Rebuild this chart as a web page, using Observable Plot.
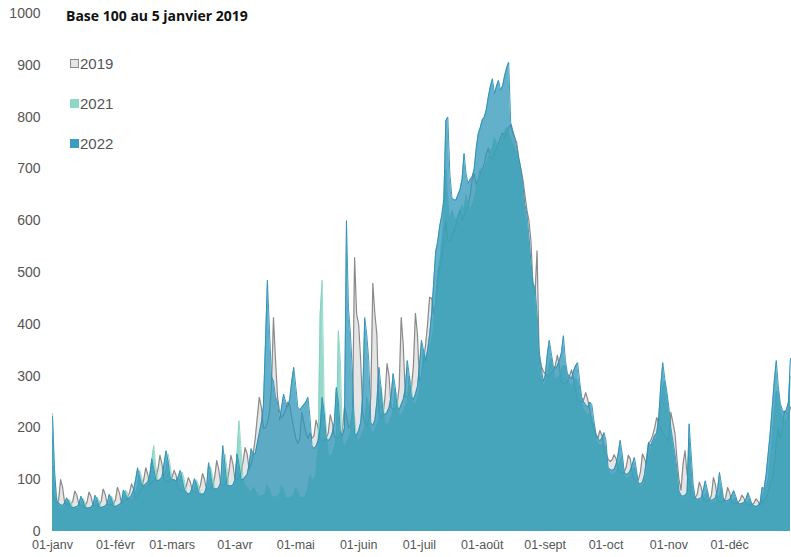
<!DOCTYPE html>
<html>
<head>
<meta charset="utf-8">
<script src="https://cdn.jsdelivr.net/npm/d3@7"></script>
<script src="https://cdn.jsdelivr.net/npm/@observablehq/plot@0.6"></script>
<style>
  html, body { margin: 0; padding: 0; background: #fff; }
  #chart { width: 791px; height: 557px; }
</style>
</head>
<body>
<div id="chart"></div>
<script>
// Daily values (index 0 = 1 January), base 100 = 5 January 2019
const values2019 = [
  80,60,55,60,100,85,55,
  52,50,52,58,78,70,52,
  50,49,50,56,76,68,50,
  50,50,52,58,82,72,52,
  52,52,54,60,85,75,55,
  58,60,65,75,92,82,65,
  70,75,85,100,123,110,90,
  95,98,105,120,147,130,100,
  98,96,98,105,118,108,85,
  80,78,80,88,104,95,78,
  76,76,78,90,112,100,80,
  82,84,88,105,137,120,90,
  88,90,95,115,147,130,100,
  100,105,115,135,162,150,120,
  130,150,180,220,259,240,200,
  200,210,230,280,413,330,260,
  230,220,225,235,250,245,220,
  200,180,170,180,230,210,190,
  180,190,180,185,215,200,180,
  175,175,180,190,225,210,185,
  180,180,185,195,240,225,200,
  205,230,529,420,400,330,230,
  210,205,215,260,479,420,380,
  230,220,225,260,324,300,240,
  235,235,245,280,413,360,260,
  260,265,275,320,421,380,290,
  300,330,360,400,452,450,420,
  440,480,510,530,560,600,560,
  560,570,580,590,610,620,600,
  610,620,630,650,680,690,670,
  680,690,700,710,730,740,720,
  720,730,740,750,760,770,760,
  770,780,785,770,760,750,720,
  700,680,650,620,600,560,470,
  460,542,340,320,310,305,300,
  300,305,310,320,340,320,290,
  285,285,290,300,312,295,270,
  255,250,250,255,268,255,235,
  210,200,185,180,195,185,165,
  150,140,135,138,148,140,120,
  115,112,115,125,147,140,110,
  100,98,100,115,150,140,130,
  170,175,185,200,220,210,200,
  190,185,180,175,230,210,190,
  140,100,80,130,156,110,100,
  70,65,65,72,95,85,62,
  60,58,60,70,104,90,60,
  58,56,58,65,85,75,56,
  55,54,55,60,70,65,52,
  52,50,52,55,63,58,50,
  55,60,65,75,95,100,130,
  170,200,180,200,232,230,225,
  240
];
const values2021 = [
  228,110,70,50,48,46,48,
  55,62,58,46,44,44,46,
  52,64,58,45,44,44,46,
  52,66,60,46,45,45,47,
  54,68,62,47,46,47,50,
  60,80,75,60,62,66,75,
  90,118,105,88,86,90,95,
  140,166,125,98,96,98,105,
  120,150,130,100,98,98,100,
  100,115,100,78,74,72,74,
  80,100,90,74,71,71,74,
  90,125,108,84,80,80,84,
  95,150,125,88,86,86,88,
  150,214,160,100,90,85,80,
  75,85,80,70,68,68,70,
  72,90,82,68,66,66,68,
  70,88,80,66,65,65,68,
  70,85,78,65,65,66,70,
  85,110,100,100,110,160,420,
  485,250,200,150,145,150,160,
  180,388,330,175,165,170,180,
  190,240,220,180,175,180,190,
  200,260,240,195,190,195,205,
  215,280,250,210,205,210,220,
  230,275,260,225,225,230,240,
  250,300,280,245,245,255,275,
  300,350,340,335,350,370,390,
  450,500,520,560,600,700,640,
  600,620,610,600,610,620,630,
  620,650,630,620,630,640,660,
  680,700,690,700,710,720,735,
  740,760,750,745,750,760,770,
  780,770,760,750,740,730,710,
  690,660,620,590,560,520,480,
  450,400,330,300,280,285,300,
  320,335,310,295,295,300,310,
  320,320,295,285,280,285,295,
  290,280,250,235,230,225,225,
  220,205,180,170,165,165,170,
  160,120,112,110,110,115,125,
  135,145,110,102,104,108,115,
  125,115,88,85,88,95,110,
  140,160,165,175,180,200,240,
  280,290,260,230,190,165,140,
  110,76,66,64,65,70,180,
  120,85,62,58,58,60,65,
  70,78,58,55,56,58,62,
  70,85,60,55,55,57,60,
  62,66,52,50,50,52,55,
  58,62,50,47,45,46,50,
  65,78,85,100,140,180,230,
  270,270,235,220,215,215,225,
  300
];
const values2022 = [
  222,120,60,55,52,50,55,
  65,58,48,46,47,48,52,
  68,60,47,45,46,47,52,
  70,62,48,46,48,49,54,
  72,64,50,48,50,52,56,
  80,72,62,65,70,80,100,
  123,105,90,88,92,95,110,
  140,120,100,98,100,105,130,
  156,135,105,100,100,98,105,
  118,100,80,75,72,75,85,
  102,92,75,72,72,75,85,
  133,110,85,82,82,85,95,
  166,130,90,88,88,90,100,
  150,130,100,100,105,110,130,
  160,150,150,170,190,210,240,
  360,485,390,300,290,260,250,
  215,240,265,250,240,255,290,
  317,280,240,235,240,245,250,
  259,220,165,160,165,175,200,
  259,230,180,175,180,190,210,
  278,250,190,185,200,600,430,
  380,300,190,185,195,210,260,
  413,380,330,210,205,215,250,
  317,280,230,225,230,240,260,
  305,280,240,235,245,255,275,
  330,300,260,255,265,280,320,
  369,350,330,350,380,420,480,
  540,560,590,610,640,793,800,
  690,645,640,640,650,660,680,
  730,690,672,680,685,700,740,
  768,780,795,800,815,840,860,
  874,845,860,871,852,860,880,
  895,906,790,775,760,740,720,
  700,670,630,614,570,520,480,
  470,420,350,320,290,300,340,
  369,345,320,315,320,330,345,
  378,330,305,300,295,310,320,
  326,290,260,250,245,240,250,
  245,215,190,180,175,180,191,
  175,124,120,118,120,130,150,
  176,150,115,110,112,118,130,
  143,120,93,92,95,110,140,
  172,165,175,185,190,220,280,
  326,295,270,240,200,175,150,
  120,79,70,68,70,75,208,
  150,90,65,62,63,65,80,
  98,80,62,60,62,65,80,
  114,90,62,60,60,62,70,
  79,68,55,53,54,56,62,
  75,65,52,50,48,50,55,
  85,83,110,150,190,240,290,
  330,280,247,235,230,235,250,
  334
];
const years = ["2019", "2021", "2022"];
const monthLabels = ["01-janv","01-févr","01-mars","01-avr","01-mai","01-juin","01-juil","01-août","01-sept","01-oct","01-nov","01-déc"];
const yTicks = [0,100,200,300,400,500,600,700,800,900,1000];

const toRows = (vals) => vals.map((v, i) => ({date: new Date(Date.UTC(2022, 0, 1 + i)), value: v}));
const d2019 = toRows(values2019);
const d2021 = toRows(values2021);
const d2022 = toRows(values2022);
const monthStarts = monthLabels.map((_, m) => new Date(Date.UTC(2022, m, 1)));

const plot = Plot.plot({
  width: 791,
  height: 557,
  marginLeft: 52,
  marginRight: 1,
  marginTop: 13,
  marginBottom: 26,
  style: {fontFamily: "'Liberation Sans', Arial, sans-serif", background: "#fff", color: "#555"},
  x: {type: "utc", domain: [new Date(Date.UTC(2022,0,1)), new Date(Date.UTC(2022,11,31))]},
  y: {domain: [0, 1000]},
  marks: [
    Plot.areaY(d2019, {x: "date", y: "value", fill: "#e5e5e5"}),
    Plot.lineY(d2019, {x: "date", y: "value", stroke: "#8a8a8a", strokeWidth: 1.2}),
    Plot.areaY(d2021, {x: "date", y: "value", fill: "#6cc9b5", fillOpacity: 0.7}),
    Plot.lineY(d2021, {x: "date", y: "value", stroke: "#7ed2bf", strokeWidth: 1, strokeOpacity: 0.8}),
    Plot.areaY(d2022, {x: "date", y: "value", fill: "#2e95b8", fillOpacity: 0.75}),
    Plot.lineY(d2022, {x: "date", y: "value", stroke: "#2c8fb5", strokeWidth: 1, strokeOpacity: 0.9}),
    Plot.axisY({ticks: yTicks, tickFormat: d => String(d), tickSize: 0, tickPadding: 12, fontSize: 14, fill: "#555", label: null}),
    Plot.axisX({ticks: monthStarts, tickFormat: d => monthLabels[d.getUTCMonth()], tickSize: 0, tickPadding: 9, fontSize: 12.5, fill: "#555", label: null})
  ]
});
document.getElementById("chart").appendChild(plot);

// Title and legend
const svg = d3.select(plot);
const deco = svg.append("g").attr("text-anchor", "start");
deco.append("text")
  .attr("x", 66).attr("y", 21)
  .attr("text-anchor", "start")
  .attr("font-family", "'Open Sans', sans-serif")
  .attr("font-weight", 700).attr("font-size", 14)
  .attr("fill", "#111")
  .text("Base 100 au 5 janvier 2019");

const legendFill = {"2019": "#e5e5e5", "2021": "#8ed8c5", "2022": "#3b9dbf"};
const legendStroke = {"2019": "#8a8a8a", "2021": "#8ed8c5", "2022": "#3b9dbf"};
years.forEach((yr, i) => {
  const cy = 63 + i * 40;
  deco.append("rect")
    .attr("x", 70.5).attr("y", cy - 3.5).attr("width", 8).attr("height", 8)
    .attr("fill", legendFill[yr]).attr("stroke", legendStroke[yr]).attr("stroke-width", 1);
  deco.append("text")
    .attr("x", 80).attr("y", cy + 6)
    .attr("text-anchor", "start")
    .attr("font-family", "'Liberation Sans', Arial, sans-serif")
    .attr("font-size", 15).attr("fill", "#555")
    .text(yr);
});
</script>
</body>
</html>
